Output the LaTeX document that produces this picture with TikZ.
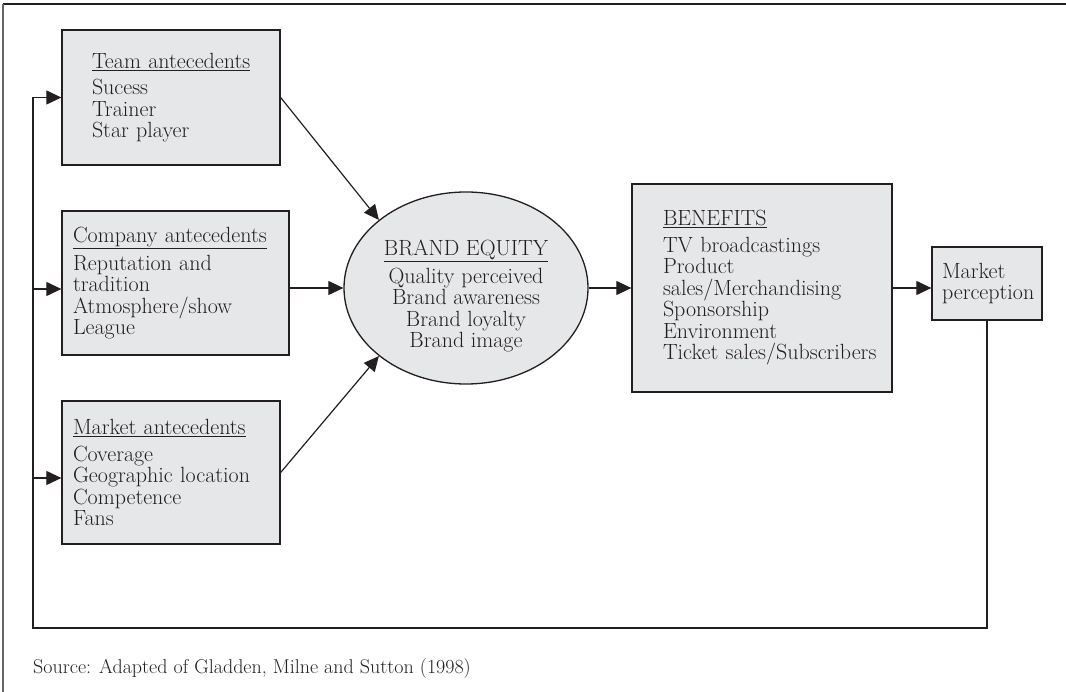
\documentclass[tikz,border=0pt]{standalone}
\usetikzlibrary{arrows.meta,shapes.geometric}
\definecolor{boxgray}{RGB}{230,231,232}
\definecolor{ink}{RGB}{35,31,32}
\newcommand{\ml}[1]{\mbox{#1}}
\begin{document}
\begin{tikzpicture}[x=1pt,y=-1pt,
  txt/.style={font=\fontsize{22}{21.5}\selectfont, text=ink},
  abox/.style={txt, draw=ink, line width=1.3pt, fill=boxgray, align=left, inner ysep=0pt},
  arr/.style={draw=ink, line width=1.2pt, -{Triangle[length=15pt,width=14pt]}},
  loopline/.style={draw=ink, line width=1.5pt}]
\useasboundingbox (0,0) rectangle (1066,692);
% outer frame (top and left only)
\draw[ink, line width=1.8pt] (3,4) -- (1066,4);
\draw[black!60, line width=1.2pt] (3,4) -- (3,692);

% antecedent boxes
\node[abox, minimum width=218pt, minimum height=135pt, inner xsep=30pt, text width=158pt] (tb) at (171,97.5)
  {\ml{\underline{Team antecedents}}\\[5pt]Sucess\\Trainer\\\ml{Star player}};
\node[abox, minimum width=227pt, minimum height=144pt, inner xsep=11pt, text width=205pt] (cb) at (175.5,283)
  {\ml{\underline{Company antecedents}}\\[5pt]\ml{Reputation and}\\tradition\\\ml{Atmosphere/show}\\League};
\node[abox, minimum width=218pt, minimum height=143pt, inner xsep=11pt, text width=196pt] (ab) at (171,472.5)
  {\ml{\underline{Market antecedents}}\\[5pt]Coverage\\\ml{Geographic location}\\Competence\\Fans};

% brand equity ellipse
\node[ellipse, draw=ink, line width=1.3pt, fill=boxgray, minimum width=244pt, minimum height=192pt, inner sep=0pt] (be) at (466,288) {};
\node[txt, align=center] (bet) at (466,296)
  {\underline{BRAND EQUITY}\\[5pt]Quality perceived\\Brand awareness\\Brand loyalty\\Brand image};

% benefits
\node[abox, minimum width=260pt, minimum height=208pt, inner xsep=31pt, text width=198pt] (bb) at (762,288)
  {\ml{\underline{BENEFITS}}\\[5pt]\ml{TV broadcastings}\\Product\\\ml{sales/Merchandising}\\Sponsorship\\Environment\\\ml{Ticket sales/Subscribers}};

% market perception
\node[abox, minimum width=110pt, minimum height=73pt, inner xsep=10pt, text width=90pt] (mp) at (987,283.5)
  {Market\\\ml{perception}};

% connectors
\draw[arr] (tb.east) -- (be.142);
\draw[arr] (cb.east |- be.west) -- (be.west);
\draw[arr] (ab.east) -- (be.218);
\draw[arr] (be.east) -- (bb.west);
\draw[arr] (bb.east) -- (bb.east -| mp.west);

% feedback loop
\coordinate (fl) at (33,628);
\coordinate (j2) at (33,289);
\coordinate (j3) at (33,478);
\draw[loopline] (mp.south) |- (fl) -- (fl |- tb.west);
\draw[arr] (fl |- tb.west) -- (tb.west);
\draw[arr] (j2) -- (j2 -| cb.west);
\draw[arr] (j3) -- (j3 -| ab.west);

% source
\node[txt, anchor=base west, inner sep=0pt, font=\fontsize{20}{21}\selectfont] (src) at (33,673)
  {Source: Adapted of Gladden, Milne and Sutton (1998)};
\end{tikzpicture}
\end{document}
